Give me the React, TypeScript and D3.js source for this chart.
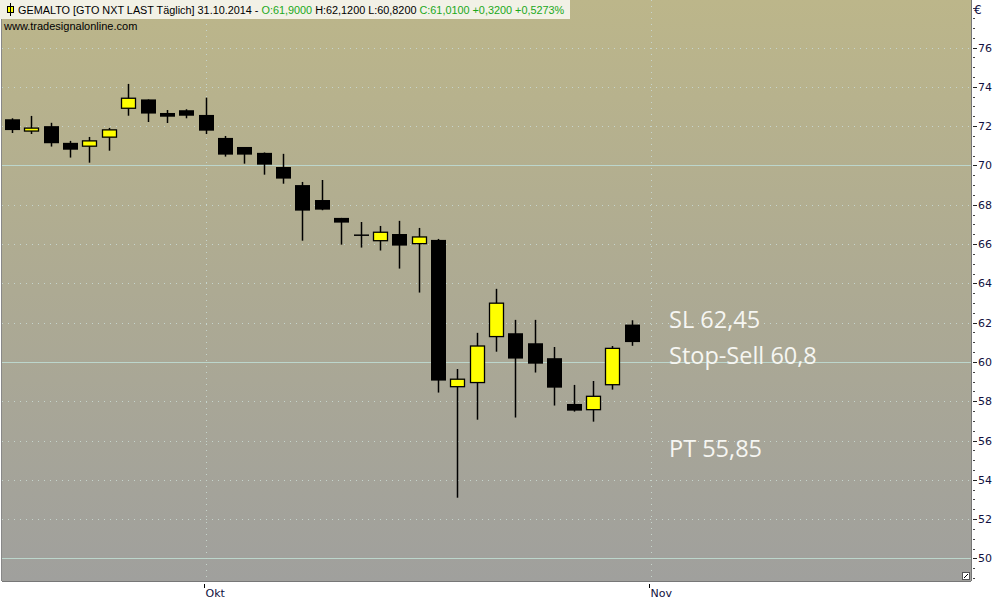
import React from "react";
import * as d3 from "d3";

const dates = [
  "2014-09-17","2014-09-18","2014-09-19","2014-09-22","2014-09-23","2014-09-24","2014-09-25","2014-09-26","2014-09-29","2014-09-30",
  "2014-10-01","2014-10-02","2014-10-03","2014-10-06","2014-10-07","2014-10-08","2014-10-09","2014-10-10","2014-10-13","2014-10-14",
  "2014-10-15","2014-10-16","2014-10-17","2014-10-20","2014-10-21","2014-10-22","2014-10-23","2014-10-24","2014-10-27","2014-10-28",
  "2014-10-29","2014-10-30","2014-10-31",
];
const opens = [72.35,71.75,72.0,71.15,70.98,71.44,72.91,73.36,72.67,72.81,72.57,71.4,70.94,70.64,69.92,69.0,68.24,67.33,66.45,66.17,66.51,66.02,66.21,58.74,58.95,61.29,61.46,60.95,60.19,57.86,57.57,58.84,61.9];
const highs = [72.4,72.52,72.17,71.25,71.45,71.91,74.15,73.36,72.82,72.86,73.45,71.5,70.94,70.66,70.59,69.16,69.26,67.33,67.12,66.92,67.18,66.82,66.26,59.64,61.48,63.72,62.14,62.14,60.76,58.83,59.03,60.81,62.12];
const lows = [71.65,71.6,70.96,70.4,70.14,70.75,72.53,72.21,72.16,72.4,71.6,70.45,70.09,69.53,69.07,66.17,67.72,65.97,65.82,65.67,64.75,63.53,58.44,53.09,57.06,60.52,57.17,59.46,57.78,57.47,56.96,58.59,60.82];
const closes = [71.8,71.9,71.13,70.8,71.25,71.81,73.42,72.64,72.48,72.53,71.77,70.55,70.55,70.04,69.33,67.7,67.75,67.09,66.45,66.6,65.92,66.36,59.05,59.12,60.81,62.99,60.17,59.91,58.69,57.52,58.25,60.69,61.01];

const yTicks = [50,52,54,56,58,60,62,64,66,68,70,72,74,76];
const monthTicks = [{ idx: 10, label: "Okt" }, { idx: 33, label: "Nov" }];
const annotations = [
  { value: 62.45, text: "SL 62,45" },
  { value: 60.8, text: "Stop-Sell 60,8" },
  { value: 55.85, text: "PT 55,85" },
];

const W = 1000, H = 600;
const plotL = 2, plotR = 971, plotT = 0, plotB = 581;

export default function App() {
  const y = d3.scaleLinear().domain([48.85, 78.42]).range([plotB, plotT]);
  const x = d3.scaleLinear().domain([0, 33]).range([12, 651]);
  const bodyW = 15;
  const minor = d3.range(49, 78.4, 0.5);

  return (
    <svg width={W} height={H} style={{ position: "absolute", left: 0, top: 0, background: "#fff" }}>
      <defs>
        <linearGradient id="bg" x1="0" y1="0" x2="0" y2="1">
          <stop offset="0%" stopColor="#bcb68a" />
          <stop offset="50%" stopColor="#adaa93" />
          <stop offset="100%" stopColor="#a0a09d" />
        </linearGradient>
      </defs>
      <rect x={0} y={0} width={W} height={H} fill="#ffffff" />
      <rect x={plotL} y={plotT} width={plotR - plotL} height={plotB - plotT} fill="url(#bg)" />
      <line x1={plotL - 0.5} x2={plotL - 0.5} y1={plotT} y2={plotB} stroke="#888" />
      <line x1={plotR + 0.5} x2={plotR + 0.5} y1={plotT} y2={plotB} stroke="#777" />
      <line x1={plotL} x2={plotR} y1={plotB + 0.5} y2={plotB + 0.5} stroke="#777" />

      {yTicks.map((v) => {
        const yy = Math.round(y(v)) + 0.5;
        const solid = v % 10 === 0;
        return (
          <line key={"g" + v} x1={plotL} x2={plotR} y1={yy} y2={yy}
            stroke={solid ? "#bcd6cc" : "#c6d4cc"} strokeWidth={1}
            strokeDasharray={solid ? undefined : "1 5"} />
        );
      })}
      {monthTicks.map((m) => {
        const xx = Math.round(x(m.idx)) + 0.5;
        return (
          <line key={"v" + m.label} x1={xx} x2={xx} y1={plotT} y2={plotB}
            stroke="#c6d4cc" strokeDasharray="1 5" />
        );
      })}

      {dates.map((d, i) => {
        const o = opens[i], c = closes[i], h = highs[i], l = lows[i];
        const cx = Math.round(x(i)) + 0.5;
        const up = c >= o;
        const top = y(Math.max(o, c)), bot = y(Math.min(o, c));
        const bh = Math.max(1.5, bot - top);
        return (
          <g key={d}>
            <line x1={cx} x2={cx} y1={y(h)} y2={y(l)} stroke="#000" strokeWidth={1.5} />
            {Math.abs(o - c) < 0.02 ? (
              <line x1={cx - bodyW / 2} x2={cx + bodyW / 2} y1={top} y2={top} stroke="#000" strokeWidth={1.5} />
            ) : up ? (
              <rect x={cx - bodyW / 2 + 0.5} y={top} width={bodyW - 1} height={bh}
                fill="#ffff00" stroke="#000" strokeWidth={1.3} />
            ) : (
              <rect x={cx - bodyW / 2} y={top} width={bodyW} height={bh} fill="#000" />
            )}
          </g>
        );
      })}

      {annotations.map((a, i) => (
        <text key={a.text} x={669} y={y(a.value) + (i === 1 ? 17.5 : 14)} fill="#f6f6f2"
          fontFamily="'Open Sans', 'DejaVu Sans', sans-serif" fontSize={23.5}>
          {a.text}
        </text>
      ))}

      {minor.map((v) => (
        <line key={"m" + v} x1={plotR + 2} x2={plotR + 4} y1={Math.round(y(v)) + 0.5} y2={Math.round(y(v)) + 0.5} stroke="#444" />
      ))}
      {yTicks.map((v) => (
        <g key={"t" + v}>
          <line x1={plotR + 2} x2={plotR + 6} y1={Math.round(y(v)) + 0.5} y2={Math.round(y(v)) + 0.5} stroke="#222" />
          <text x={plotR + 7} y={y(v) + 4} fontSize={11} fill="#101040"
            fontFamily="'DejaVu Sans', sans-serif">{v}</text>
        </g>
      ))}
      <text x={plotR + 3} y={14} fontSize={12} fill="#101040" fontFamily="'DejaVu Sans', sans-serif">€</text>

      {monthTicks.map((m) => {
        const xx = Math.round(x(m.idx)) - 1.5;
        return (
          <g key={"b" + m.label}>
            <line x1={xx} x2={xx} y1={plotB + 3} y2={plotB + 7} stroke="#000" />
            <text x={xx + 1} y={plotB + 16} fontSize={11} fill="#101040"
              fontFamily="'DejaVu Sans', sans-serif">{m.label}</text>
          </g>
        );
      })}

      <rect x={plotR - 8.5} y={plotB - 8.5} width={7} height={7} fill="#fff" stroke="#555" />
      <line x1={plotR - 7} x2={plotR - 3} y1={plotB - 3} y2={plotB - 7} stroke="#000" />

      <rect x={0} y={0} width={570} height={19} fill="#f2f1e6" />
      <rect x={7.5} y={6.5} width={6} height={6} fill="#ffff00" stroke="#000" />
      <line x1={10.5} x2={10.5} y1={3} y2={16} stroke="#000" />
      <text x={18} y={14} fontSize={10.85} fontFamily="'Liberation Sans', Arial, sans-serif">
        <tspan fill="#000">GEMALTO [GTO NXT LAST Täglich] 31.10.2014 - </tspan>
        <tspan fill="#1aa81a">O:61,9000 </tspan>
        <tspan fill="#000">H:62,1200 L:60,8200 </tspan>
        <tspan fill="#1aa81a">C:61,0100 +0,3200 +0,5273%</tspan>
      </text>
      <text x={4} y={30} fontSize={11} fill="#000" fontFamily="'Liberation Sans', Arial, sans-serif">www.tradesignalonline.com</text>
    </svg>
  );
}
